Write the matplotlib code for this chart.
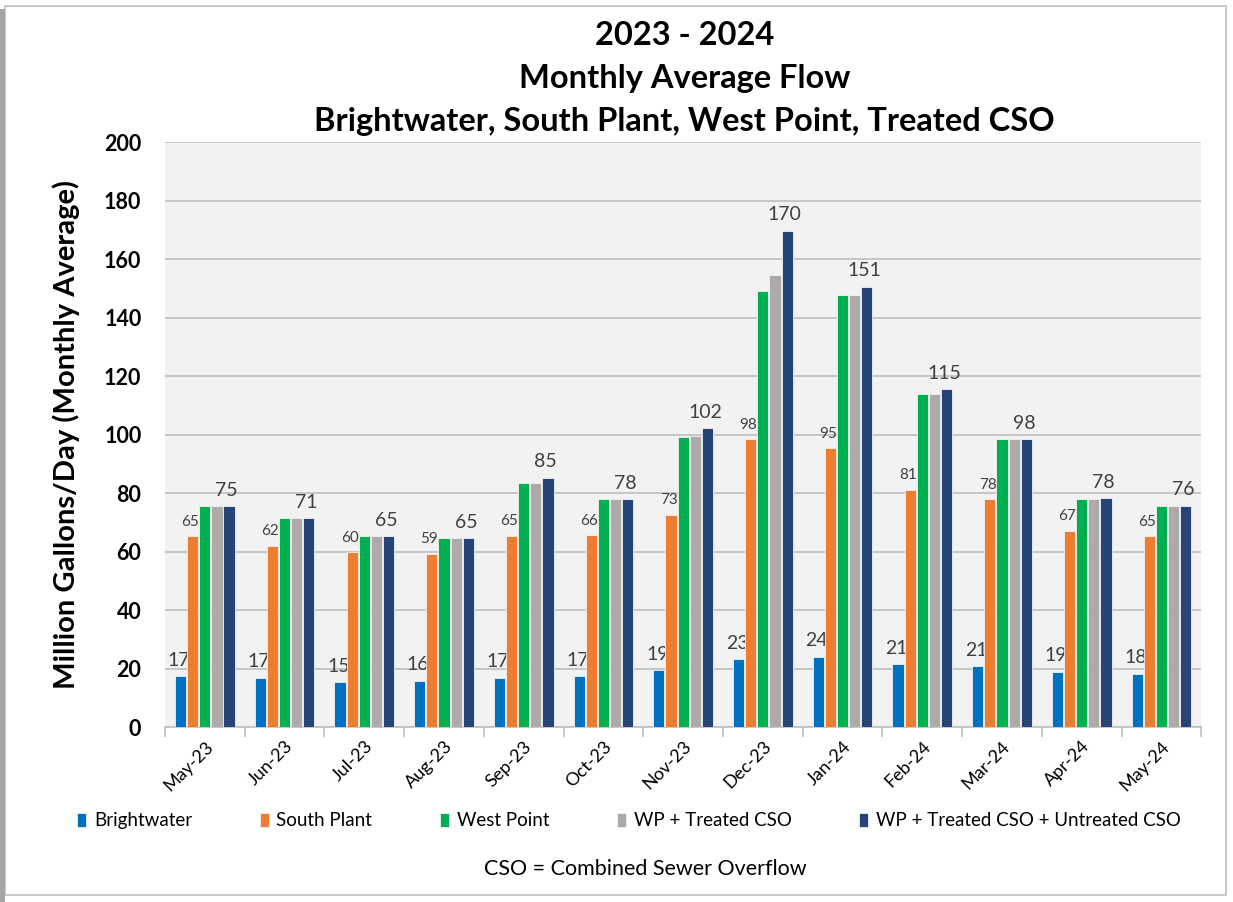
import numpy as np
import matplotlib.pyplot as plt
from matplotlib.patches import Rectangle

plt.switch_backend("Agg")
plt.rcParams['font.family'] = ['Lato', 'DejaVu Sans']

months = ["May-23", "Jun-23", "Jul-23", "Aug-23", "Sep-23", "Oct-23", "Nov-23",
          "Dec-23", "Jan-24", "Feb-24", "Mar-24", "Apr-24", "May-24"]
brightwater = [17.3, 16.9, 15.3, 15.8, 16.9, 17.3, 19.4, 23.2, 24.1, 21.4, 20.7, 18.9, 18.2]
south_plant = [65.3, 62.0, 59.8, 59.3, 65.4, 65.6, 72.6, 98.4, 95.4, 81.2, 78.0, 67.1, 65.2]
west_point = [75.4, 71.4, 65.2, 64.6, 83.3, 78.0, 99.0, 149.1, 147.8, 113.8, 98.4, 78.1, 75.7]
wp_treated = [75.4, 71.4, 65.2, 64.6, 83.5, 78.0, 99.4, 154.4, 147.8, 113.9, 98.4, 78.1, 75.7]
wp_all = [75.4, 71.4, 65.2, 64.6, 85.3, 78.0, 102.1, 169.7, 150.6, 115.4, 98.4, 78.3, 75.7]

series = [
    ("Brightwater", brightwater, "#0070C0"),
    ("South Plant", south_plant, "#ED7D31"),
    ("West Point", west_point, "#00B050"),
    ("WP + Treated CSO", wp_treated, "#AEAAAA"),
    ("WP + Treated CSO + Untreated CSO", wp_all, "#264478"),
]

fig = plt.figure(figsize=(12.33, 9.02), dpi=100)
fig.patch.set_facecolor("white")
# frame like the pasted chart box
fig.add_artist(Rectangle((0.004, 0.008), 0.99, 0.985, transform=fig.transFigure,
                         fill=False, edgecolor="#BFBFBF", lw=1.2))
fig.add_artist(Rectangle((0.0, 0.0), 0.004, 0.99, transform=fig.transFigure,
                         color="#A6A6A6", lw=0))

ax = fig.add_axes([0.1338, 0.194, 0.8405, 0.6485])
ax.set_facecolor("#F2F2F2")

x = np.arange(len(months))
w = 0.14
step = 0.152
for i, (name, vals, col) in enumerate(series):
    pos = x + (i - 2) * step
    ax.bar(pos, vals, width=w, color=col, label=name, edgecolor="#F2F2F2",
           linewidth=0.6, zorder=3)
    for px, v in zip(pos, vals):
        if i == 0:
            ax.text(px - 0.02, v + 2.5, f"{v:.0f}", ha="center", va="bottom",
                    fontsize=14, color="#404040")
        elif i == 1:
            ax.text(px - 0.03, v + 2.5, f"{v:.0f}", ha="center", va="bottom",
                    fontsize=11, color="#404040")
        elif i == 4:
            ax.text(px - 0.03, v + 2.5, f"{v:.0f}", ha="center", va="bottom",
                    fontsize=14, color="#404040")

ax.set_ylim(0, 200)
ax.set_xlim(-0.5, len(months) - 0.5)
ax.set_yticks(np.arange(0, 201, 20))
ax.yaxis.grid(True, color="#BFBFBF", lw=1.2, zorder=0)
ax.set_axisbelow(True)
for s in ["top", "right", "left"]:
    ax.spines[s].set_visible(False)
ax.spines["bottom"].set_color("#BFBFBF")
ax.spines["bottom"].set_linewidth(1.2)
ax.tick_params(axis="y", length=0, labelsize=15.5, pad=17)
for t in ax.get_yticklabels():
    t.set_fontweight("bold")

ax.set_xticks(x)
ax.set_xticklabels(months, rotation=45, ha="right", rotation_mode="anchor", fontsize=13)
ax.tick_params(axis="x", length=0, pad=8)
ax.set_xticks(np.arange(-0.5, len(months), 1), minor=True)
ax.tick_params(axis="x", which="minor", length=7, color="#BFBFBF", width=1.2)

ax.set_ylabel("Million Gallons/Day (Monthly Average)", fontsize=21, fontweight="bold",
              labelpad=17)

fig.text(0.555, 0.961, "2023 - 2024", ha="center", va="center", fontsize=23.5, fontweight="bold")
fig.text(0.555, 0.913, "Monthly Average Flow", ha="center", va="center", fontsize=23.5, fontweight="bold")
fig.text(0.555, 0.865, "Brightwater, South Plant, West Point, Treated CSO", ha="center",
         va="center", fontsize=23.5, fontweight="bold")

fig.legend(loc="center", bbox_to_anchor=(0.51, 0.09), ncol=5, frameon=False,
           fontsize=13.5, handlelength=0.5, handleheight=0.8, handletextpad=0.4,
           columnspacing=3.6)

fig.text(0.523, 0.037, "CSO = Combined Sewer Overflow", ha="center", va="center", fontsize=15.5)

fig.savefig("out.png", dpi=100)
